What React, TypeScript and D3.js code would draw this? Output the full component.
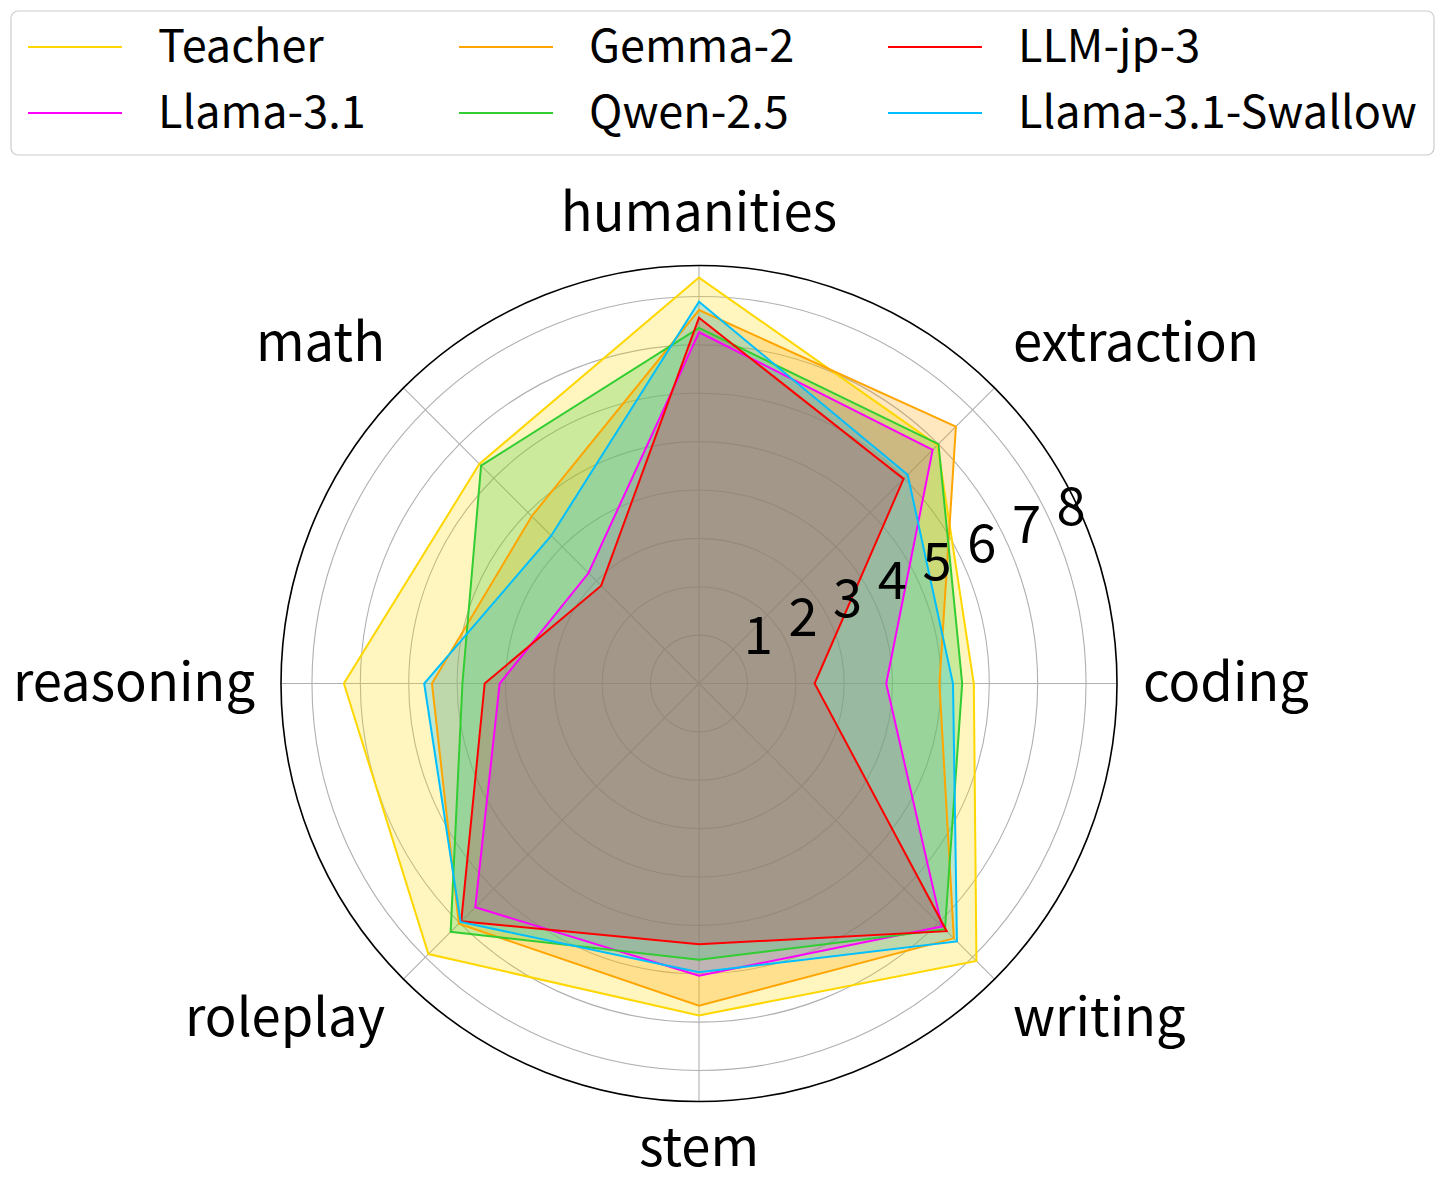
import React from "react";
import * as d3 from "d3";

const categories = ["humanities", "extraction", "coding", "writing", "stem", "roleplay", "reasoning", "math"];
const seriesNames = ["Teacher", "Llama-3.1", "Gemma-2", "Qwen-2.5", "LLM-jp-3", "Llama-3.1-Swallow"];
const seriesColors = ["#FFD700", "#FF00FF", "#FFA500", "#32CD32", "#FF0000", "#00BFFF"];
const teacher = [8.39, 6.97, 5.68, 8.11, 6.86, 7.91, 7.34, 6.42];
const llama31 = [7.26, 6.83, 3.87, 7.10, 6.04, 6.54, 4.12, 3.23];
const gemma2 = [7.72, 7.51, 4.97, 7.45, 6.66, 7.02, 5.52, 4.89];
const qwen25 = [7.35, 7.00, 5.44, 7.19, 5.71, 7.26, 4.89, 6.37];
const llmjp3 = [7.56, 5.98, 2.39, 7.24, 5.39, 6.95, 4.43, 2.86];
const swallow = [7.89, 6.10, 5.25, 7.54, 5.97, 6.97, 5.68, 4.32];
const seriesValues = [teacher, llama31, gemma2, qwen25, llmjp3, swallow];
const radialTicks = [1, 2, 3, 4, 5, 6, 7, 8];
const legendOrder = [0, 2, 4, 1, 3, 5]; // row-wise display (column-major legend)

const W = 1446;
const H = 1187;
const cx = 699;
const cy = 683.5;
const R = 418;
const rMax = 8.64;
const FONT = "'Noto Sans CJK JP', 'Noto Sans', sans-serif";
const FS = 52.5;
const LFS = 45;

export default function App() {
  const r = d3.scaleLinear().domain([0, rMax]).range([0, R]);
  const angle = d3
    .scaleLinear()
    .domain([0, categories.length])
    .range([0, 2 * Math.PI]);
  const pt = (i: number, v: number): [number, number] => {
    const a = angle(i);
    return [cx + r(v) * Math.sin(a), cy - r(v) * Math.cos(a)];
  };
  const line = d3
    .line<number>()
    .x((v, i) => pt(i, v)[0])
    .y((v, i) => pt(i, v)[1])
    .curve(d3.curveLinearClosed);

  const labelR = R + 26;
  const eps = 1e-6;
  const rlabelAngle = (67.5 * Math.PI) / 180;

  return (
    <svg width={W} height={H} style={{ display: "block", position: "absolute", left: 0, top: 0 }}>
      <rect x={0} y={0} width={W} height={H} fill="#ffffff" />
      {radialTicks.map((t) => (
        <circle key={"g" + t} cx={cx} cy={cy} r={r(t)} fill="none" stroke="#b0b0b0" strokeWidth={1.1} />
      ))}
      {categories.map((c, i) => {
        const [x, y] = pt(i, rMax);
        return <line key={"s" + c} x1={cx} y1={cy} x2={x} y2={y} stroke="#b0b0b0" strokeWidth={1.1} />;
      })}
      {seriesValues.map((vals, k) => (
        <path key={"f" + k} d={line(vals) || ""} fill={seriesColors[k]} fillOpacity={0.25} stroke="none" />
      ))}
      {seriesValues.map((vals, k) => (
        <path key={"l" + k} d={line(vals) || ""} fill="none" stroke={seriesColors[k]} strokeWidth={2} strokeLinejoin="miter" />
      ))}
      <circle cx={cx} cy={cy} r={R} fill="none" stroke="#000000" strokeWidth={1.6} />
      {radialTicks.map((t) => {
        const x = cx + r(t) * Math.sin(rlabelAngle);
        const y = cy - r(t) * Math.cos(rlabelAngle) - 0.2 * FS;
        return (
          <text key={"rt" + t} x={x} y={y} fontFamily={FONT} fontSize={FS} textAnchor="start" fill="#000">
            {t}
          </text>
        );
      })}
      {categories.map((c, i) => {
        const a = angle(i);
        const s = Math.sin(a);
        const co = Math.cos(a);
        const x = cx + labelR * s;
        const y0 = cy - labelR * co;
        const anchor = s > eps ? "start" : s < -eps ? "end" : "middle";
        const y = co > eps ? y0 - 0.16 * FS : co < -eps ? y0 + 0.74 * FS : y0 + 0.33 * FS;
        return (
          <text key={"c" + c} x={x} y={y} fontFamily={FONT} fontSize={FS} textAnchor={anchor} fill="#000">
            {c}
          </text>
        );
      })}
      <rect x={11} y={11} width={1423} height={144} rx={7} fill="#ffffff" fillOpacity={0.8} stroke="#cccccc" strokeWidth={1.2} />
      {legendOrder.map((k, j) => {
        const col = j % 3;
        const row = Math.floor(j / 3);
        const colX = [28, 459, 888][col];
        const y = 47 + row * 66;
        return (
          <g key={"lg" + k}>
            <line x1={colX} y1={y} x2={colX + 94} y2={y} stroke={seriesColors[k]} strokeWidth={2} />
            <text x={colX + 130} y={y + 0.34 * LFS} fontFamily={FONT} fontSize={LFS} fill="#000">
              {seriesNames[k]}
            </text>
          </g>
        );
      })}
    </svg>
  );
}
